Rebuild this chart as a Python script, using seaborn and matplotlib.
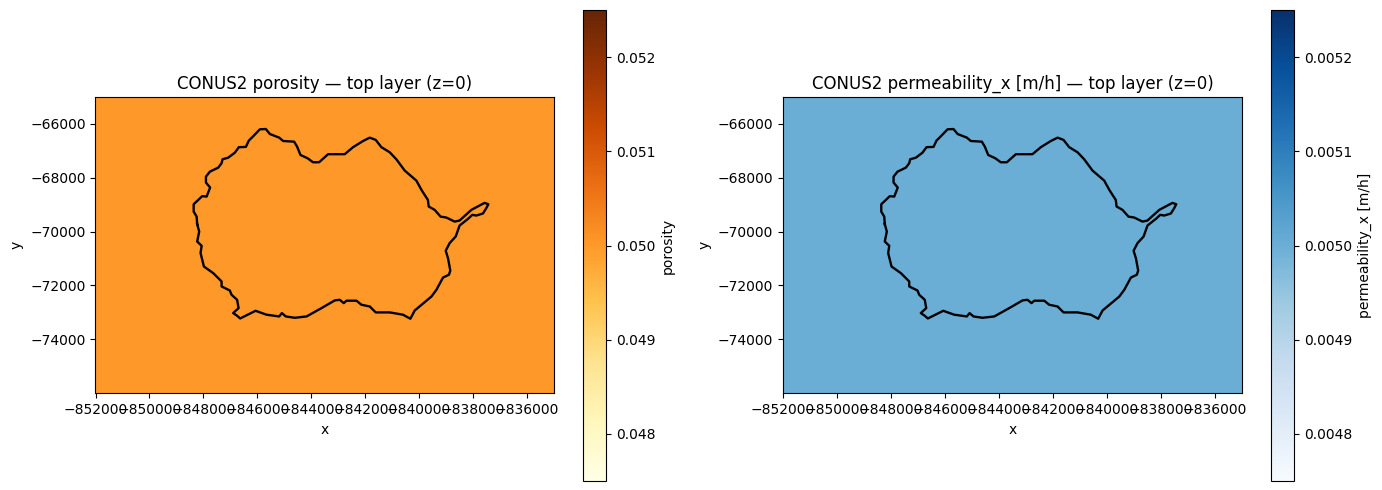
import numpy as np
import matplotlib
matplotlib.use("Agg")
import matplotlib.pyplot as plt
import seaborn as sns

# Watershed boundary in projected coordinates [m]
boundary_x = [-848230, -848250, -848360, -848360, -848190, -848045, -847880, -847750, -847905, -847905,
              -847760, -847450, -847325, -847290, -847080, -846835, -846685, -846425, -846315, -846130,
              -845905, -845685, -845535, -845190, -845045, -844635, -844525, -844400, -844140, -843935,
              -843710, -843375, -842760, -842450, -842080, -841830, -841610, -841400, -841090, -840845,
              -840535, -840105, -839915, -839795, -839675, -839645, -839425, -839205, -838990, -838685,
              -838500, -838065, -837575, -837435, -837510, -837635, -837880, -838030, -838190, -838500,
              -838645, -838870, -839015, -838930, -838845, -838895, -839115, -839360, -839545, -840165,
              -840325, -840600, -841090, -841610, -841830, -842140, -842325, -842695, -842795, -842945,
              -843130, -843620, -844175, -844610, -844945, -845090, -845190, -845660, -846065, -846635,
              -846750, -846895, -846695, -846750, -846955, -847020, -847325, -847325, -847635, -847980,
              -848105, -848065, -848230, -848155, -848230]
boundary_y = [-69725, -69445, -69260, -68985, -68825, -68685, -68700, -68365, -68180, -67960,
              -67775, -67625, -67460, -67315, -67255, -67070, -66865, -66855, -66620, -66435,
              -66200, -66190, -66375, -66510, -66635, -66660, -66845, -67155, -67275, -67425,
              -67425, -67125, -67125, -66865, -66635, -66510, -66595, -66865, -67055, -67315,
              -67735, -68105, -68450, -68640, -68825, -69070, -69195, -69445, -69480, -69630,
              -69590, -69195, -68935, -68985, -69130, -69330, -69405, -69380, -69530, -69775,
              -70185, -70430, -70715, -70990, -71450, -71605, -71710, -72165, -72415, -72935,
              -73240, -73090, -73005, -73005, -72785, -72720, -72570, -72570, -72660, -72535,
              -72560, -72845, -73155, -73205, -73155, -73030, -73155, -73090, -72945, -73230,
              -73130, -73030, -72845, -72535, -72350, -72190, -72040, -71855, -71545, -71300,
              -70800, -70530, -70370, -70000, -69725]

# Grid cell edges and top-layer field values
x_edges = [-852000, -835000]
y_edges = [-76000, -65000]
porosity_top = [[0.05]]
permeability_top = [[0.005]]
porosity_range = (0.0475, 0.0525)
permeability_range = (0.00475, 0.00525)
titles = ["CONUS2 porosity \u2014 top layer (z=0)", "CONUS2 permeability_x [m/h] \u2014 top layer (z=0)"]
cbar_labels = ["porosity", "permeability_x [m/h]"]
cbar_ticks = [[0.048, 0.049, 0.050, 0.051, 0.052], [0.0048, 0.0049, 0.0050, 0.0051, 0.0052]]
x_ticks = list(range(-852000, -835000, 2000))
y_ticks = list(range(-74000, -65000, 2000))

W, H = 1382, 490
fig = plt.figure(figsize=(W / 100, H / 100), dpi=100)


def frame(left, top, right, bottom):
    return [left / W, 1 - bottom / H, (right - left) / W, (bottom - top) / H]


panels = [
    (frame(95.5, 97, 554, 393), frame(583, 10, 606, 481), "YlOrBr", porosity_top, porosity_range),
    (frame(783, 97, 1242, 393), frame(1271, 10, 1294, 481), "Blues", permeability_top, permeability_range),
]

for i, (ax_box, cax_box, cmap_name, field, (vmin, vmax)) in enumerate(panels):
    ax = fig.add_axes(ax_box)
    cax = fig.add_axes(cax_box)
    cmap = sns.color_palette(cmap_name, as_cmap=True)
    mesh = ax.pcolormesh(x_edges, y_edges, np.array(field), cmap=cmap, vmin=vmin, vmax=vmax)
    sns.lineplot(x=boundary_x, y=boundary_y, sort=False, estimator=None, color="black",
                 linewidth=1.7, solid_joinstyle="round", ax=ax)
    ax.set_xlim(x_edges)
    ax.set_ylim(y_edges)
    ax.set_xticks(x_ticks)
    ax.set_yticks(y_ticks)
    ax.set_xlabel("x", labelpad=4.6)
    ax.set_ylabel("y", labelpad=4.4)
    ax.set_title(titles[i])
    cbar = fig.colorbar(mesh, cax=cax)
    cbar.set_ticks(cbar_ticks[i])
    cbar.set_label(cbar_labels[i])

fig.savefig("out.png", dpi=100)
